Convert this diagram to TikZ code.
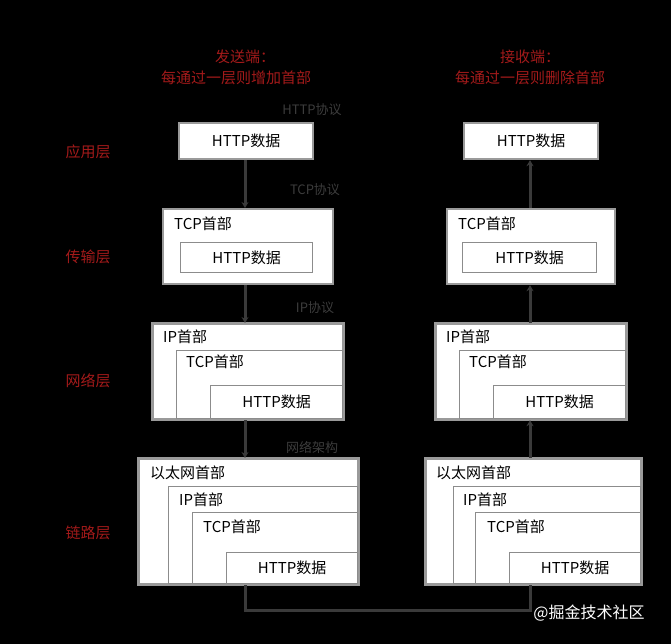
\documentclass[tikz,border=0pt]{standalone}
\usepackage{fontspec}
\newfontfamily\cjk{Noto Sans CJK SC}
\usetikzlibrary{arrows.meta}
\definecolor{bggray}{HTML}{000000}
\definecolor{boxgray}{HTML}{9A9A9A}
\definecolor{innergray}{HTML}{8C8C8C}
\definecolor{redtxt}{HTML}{A31A1A}
\definecolor{linegray}{HTML}{3A3A3A}
\definecolor{dimtxt}{HTML}{3C3C3C}
\tikzset{
  outerbox/.style={draw=boxgray, line width=2.2pt, fill=white, anchor=north west, inner sep=0pt},
  outerline/.style={draw=boxgray, line width=2.2pt},
  innerbox/.style={draw=innergray, line width=1.3pt, fill=white, anchor=north west, inner sep=0pt},
  boxtxt/.style={font=\cjk\fontsize{15}{17}\selectfont, text=black, inner sep=0pt},
  hdrtxt/.style={boxtxt, anchor=west},
  redlbl/.style={font=\cjk\fontsize{15}{17}\selectfont, text=redtxt, inner sep=0pt},
  protolbl/.style={font=\cjk\fontsize{13}{15}\selectfont, text=dimtxt, inner sep=0pt},
  conn/.style={draw=linegray, line width=3pt},
  arr/.style={conn, -{Stealth[length=6pt,width=7pt]}},
}
\begin{document}
\begin{tikzpicture}[x=1pt,y=-1pt]
\fill[bggray] (0,0) rectangle (671,644);
\useasboundingbox (0,0) rectangle (671,644);

% titles
\node[redlbl] (stitle) at (245,57) {发送端：};
\node[redlbl] (sdesc) at (236,78) {每通过一层则增加首部};
\node[redlbl] (rtitle) at (530,57) {接收端：};
\node[redlbl] (rdesc) at (530,78) {每通过一层则删除首部};

% layer labels
\node[redlbl] (l1) at (88,152) {应用层};
\node[redlbl] (l2) at (88,257) {传输层};
\node[redlbl] (l3) at (88,381) {网络层};
\node[redlbl] (l4) at (88,533) {链路层};

% protocol labels
\node[protolbl] (p1) at (312,110) {HTTP协议};
\node[protolbl] (p2) at (315,190) {TCP协议};
\node[protolbl] (p3) at (315,308) {IP协议};
\node[protolbl] (p4) at (312,447) {网络架构};

% ---------- sender ----------
\node[outerbox, minimum width=134pt, minimum height=36pt] (sA) at (178,122) {};
\node[boxtxt] (sAt) at (sA.center) {HTTP数据};

\node[outerbox, minimum width=170pt, minimum height=75pt] (sT) at (162,208) {};
\node[hdrtxt] (sTl) at (174,224) {TCP首部};
\node[innerbox, minimum width=132pt, minimum height=30pt] (sTh) at (180,242) {};
\node[boxtxt] (sTht) at (sTh.center) {HTTP数据};

\node[outerbox, minimum width=190pt, minimum height=95pt] (sN) at (152,323) {};
\node[hdrtxt] (sNl) at (163,337) {IP首部};
\node[innerbox, minimum width=166pt, minimum height=68pt] (sNt) at (176,350) {};
\node[hdrtxt] (sNtl) at (186,362) {TCP首部};
\node[innerbox, minimum width=132pt, minimum height=33pt] (sNh) at (210,385) {};
\node[boxtxt] (sNht) at (sNh.center) {HTTP数据};
\draw[outerline] (sN.north west) rectangle (sN.south east);

\node[outerbox, minimum width=219pt, minimum height=125pt] (sL) at (138,458) {};
\node[hdrtxt] (sLl) at (150,473) {以太网首部};
\node[innerbox, minimum width=189pt, minimum height=97pt] (sLi) at (168,486) {};
\node[hdrtxt] (sLil) at (179,500) {IP首部};
\node[innerbox, minimum width=165pt, minimum height=71pt] (sLt) at (192,512) {};
\node[hdrtxt] (sLtl) at (203,527) {TCP首部};
\node[innerbox, minimum width=131pt, minimum height=31pt] (sLh) at (226,552) {};
\node[boxtxt] (sLht) at (sLh.center) {HTTP数据};
\draw[outerline] (sL.north west) rectangle (sL.south east);

% ---------- receiver ----------
\node[outerbox, minimum width=134pt, minimum height=36pt] (rA) at (463,122) {};
\node[boxtxt] (rAt) at (rA.center) {HTTP数据};

\node[outerbox, minimum width=168pt, minimum height=75pt] (rT) at (446,208) {};
\node[hdrtxt] (rTl) at (458,224) {TCP首部};
\node[innerbox, minimum width=134pt, minimum height=30pt] (rTh) at (462,242) {};
\node[boxtxt] (rTht) at (rTh.center) {HTTP数据};

\node[outerbox, minimum width=190pt, minimum height=95pt] (rN) at (435,323) {};
\node[hdrtxt] (rNl) at (446,337) {IP首部};
\node[innerbox, minimum width=166pt, minimum height=68pt] (rNt) at (459,350) {};
\node[hdrtxt] (rNtl) at (469,362) {TCP首部};
\node[innerbox, minimum width=132pt, minimum height=33pt] (rNh) at (493,385) {};
\node[boxtxt] (rNht) at (rNh.center) {HTTP数据};
\draw[outerline] (rN.north west) rectangle (rN.south east);

\node[outerbox, minimum width=215pt, minimum height=125pt] (rL) at (425,458) {};
\node[hdrtxt] (rLl) at (436,473) {以太网首部};
\node[innerbox, minimum width=187pt, minimum height=97pt] (rLi) at (453,486) {};
\node[hdrtxt] (rLil) at (463,500) {IP首部};
\node[innerbox, minimum width=165pt, minimum height=71pt] (rLt) at (475,512) {};
\node[hdrtxt] (rLtl) at (487,527) {TCP首部};
\node[innerbox, minimum width=131pt, minimum height=31pt] (rLh) at (509,552) {};
\node[boxtxt] (rLht) at (rLh.center) {HTTP数据};
\draw[outerline] (rL.north west) rectangle (rL.south east);

% ---------- connectors ----------
\coordinate (sx) at (245,0);
\coordinate (rx) at (530,0);
\coordinate (bl) at (245,610);
\coordinate (br) at (530,610);
\draw[arr] (sA.south -| sx) -- (sT.north -| sx);
\draw[arr] (sT.south -| sx) -- (sN.north -| sx);
\draw[arr] (sN.south -| sx) -- (sL.north -| sx);
\draw[conn] (sL.south -| sx) -- (bl) -- (br) -- (rL.south -| rx);
\draw[arr] (rL.north -| rx) -- (rN.south -| rx);
\draw[arr] (rN.north -| rx) -- (rT.south -| rx);
\draw[arr] (rT.north -| rx) -- (rA.south -| rx);

% watermark
\node[font=\cjk\fontsize{16}{18}\selectfont, text=white, inner sep=0pt] (wm) at (589,613) {@掘金技术社区};
\end{tikzpicture}
\end{document}
